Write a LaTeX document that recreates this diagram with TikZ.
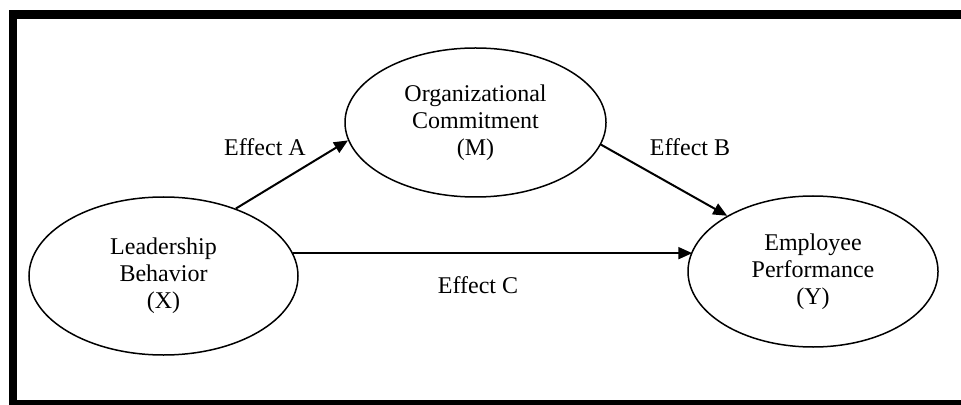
\documentclass[tikz,border=0pt]{standalone}
\usepackage{fontspec}
\setmainfont{Liberation Serif}
\usetikzlibrary{shapes.geometric,arrows.meta}
\begin{document}
\begin{tikzpicture}[x=0.5pt,y=-0.5pt,
  ell/.style={draw, ellipse, line width=0.75pt, inner sep=0pt, align=center,
    font=\fontsize{12}{13.5}\selectfont},
  arr/.style={line width=1pt, -{Triangle[length=7pt,width=6pt]}},
  lbl/.style={font=\fontsize{12}{14}\selectfont, inner sep=0pt}]
\useasboundingbox (0,0) rectangle (961,405);
\fill (9,10) rectangle (961,19);
\fill (9,10) rectangle (17,405);
\fill (9,400) rectangle (961,405);
\node[ell, minimum width=134.5pt, minimum height=79pt] (L) at (163.5,276) {Leadership\\Behavior\\(X)};
\node[ell, minimum width=130.5pt, minimum height=74.5pt] (O) at (475.5,122.5) {Organizational\\Commitment\\(M)};
\node[ell, minimum width=125pt, minimum height=75.5pt] (E) at (813,271.5) {Employee\\Performance\\(Y)};
\draw[arr] (L.43.6) -- (O.188.8);
\draw[arr] (O.-10.2) -- (E.147.6);
\draw[arr] (L.10.6) -- (L.10.6 -| E.170.7);
\node[lbl] (ea) at (265,147) {Effect A};
\node[lbl] (eb) at (690,147) {Effect B};
\node[lbl] (ec) at (478,285) {Effect C};
\end{tikzpicture}
\end{document}
